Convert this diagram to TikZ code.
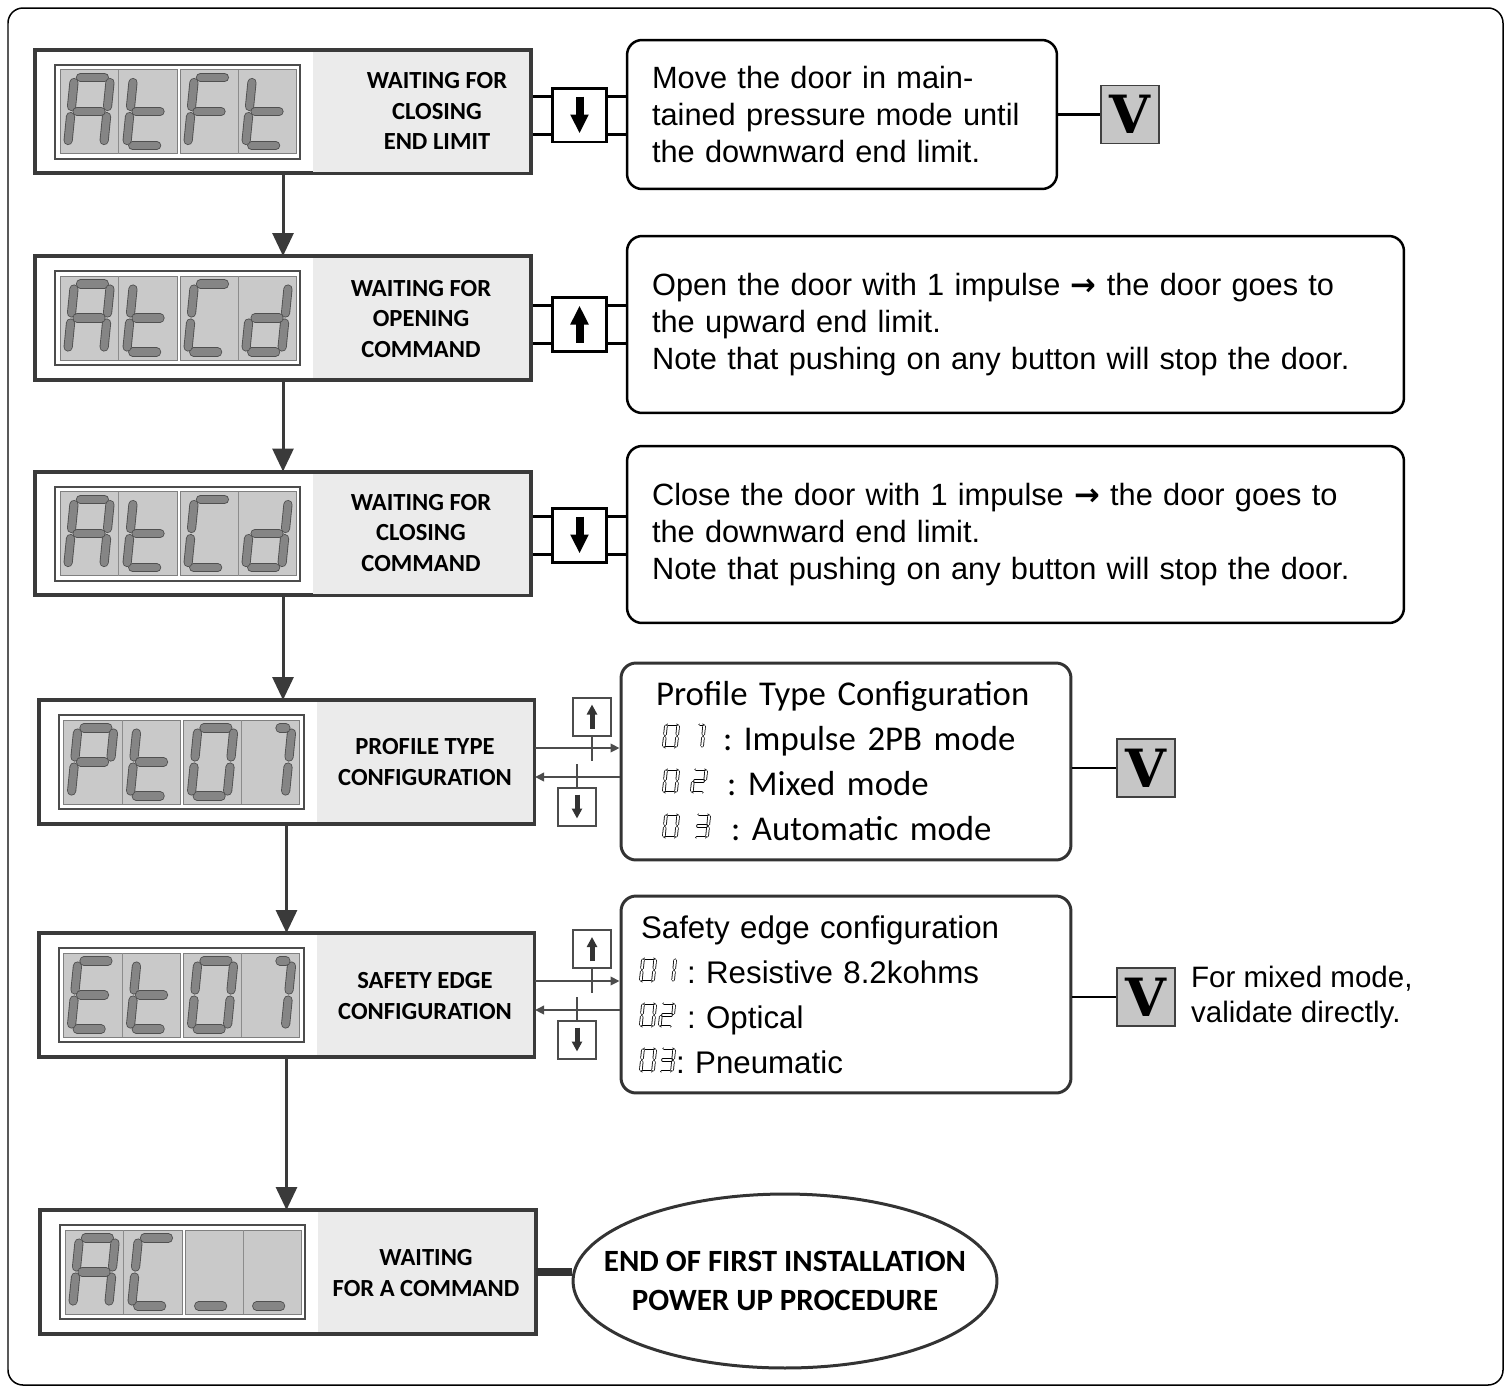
\documentclass[tikz,border=0pt]{standalone}
\usepackage{fontspec}
\setmainfont{Liberation Sans}
\newfontfamily\calibri{Carlito}
\newfontfamily\vfont{DejaVu Serif}
\newfontfamily\dejavu{DejaVu Sans}
\frenchspacing
\usetikzlibrary{arrows.meta,shapes.geometric,positioning,backgrounds}

\definecolor{paneledge}{HTML}{3A3A3A}
\definecolor{lcdback}{HTML}{EBEBEB}
\definecolor{lcdcell}{HTML}{C9C9C9}
\definecolor{segfill}{HTML}{858585}
\definecolor{segedge}{HTML}{505050}
\definecolor{vgray}{HTML}{C6C6C6}

\tikzset{
  lcdpanel/.style={draw=paneledge, line width=0.08cm, fill=white, minimum width=9.92cm, minimum height=2.48cm, inner sep=0pt, outer sep=0pt},
  plabel/.style={align=center, inner sep=0pt, font=\calibri\bfseries\fontsize{14}{17.6}\selectfont},
  seg/.style={line cap=round, draw=segedge, line width=0.5pt, double=segfill, double distance=4.2pt},
  smallseg/.style={seg/.style={line cap=round, draw=black, line width=0.45pt, double=white, double distance=1.1pt}},
  flow/.style={draw=paneledge, line width=0.06cm, -{Triangle[length=0.46cm,width=0.42cm]}},
  msgbox/.style={draw, rounded corners=0.3cm, line width=0.05cm, align=left, inner xsep=0.5cm, font=\fontsize{17.5}{21}\selectfont},
  cfgbox/.style={draw=black!80, rounded corners=0.3cm, line width=0.06cm, align=left, minimum width=9cm, minimum height=3.94cm},
  keybtn/.style={draw, line width=0.06cm, fill=white, minimum size=1.08cm, inner sep=0pt},
  keylink/.style={draw, line width=0.06cm, double, double distance=0.7cm},
  keyarrow/.style={line width=0.16cm, -{Triangle[length=0.38cm,width=0.34cm]}},
  smallbtn/.style={draw=black!70, line width=0.04cm, fill=white, minimum size=0.76cm, inner sep=0pt},
  smallkey/.style={draw=black!80, line width=0.1cm, -{Triangle[length=0.2cm,width=0.2cm]}},
  smallarrow/.style={draw=black!70, line width=0.04cm, -{Triangle[length=0.18cm,width=0.17cm]}},
  tick/.style={draw=black!70, line width=0.04cm},
  vkey/.style={draw=black!75, line width=0.03cm, fill=vgray, minimum size=1.16cm, inner sep=0pt, font=\vfont\bfseries\fontsize{30}{30}\selectfont},
  vlink/.style={draw, line width=0.05cm},
  note/.style={align=left, inner sep=0pt, font=\fontsize{16.8}{19.8}\selectfont},
  endoval/.style={ellipse, draw=black!80, line width=0.06cm, minimum width=8.48cm, minimum height=3.48cm},
}

\def\lcdsega{\draw[seg] (-12,-34)--(12,-34);}
\def\lcdsegb{\draw[seg] (18,-29)--(18,-5);}
\def\lcdsegc{\draw[seg] (18,5)--(18,29);}
\def\lcdsegd{\draw[seg] (-12,34)--(12,34);}
\def\lcdsege{\draw[seg] (-18,5)--(-18,29);}
\def\lcdsegf{\draw[seg] (-18,-29)--(-18,-5);}
\def\lcdsegg{\draw[seg] (-12,0)--(12,0);}
\def\lcdsegh{\draw[seg] (6,-34)--(12,-34);}

\newcommand\segdigit[3][]{%
  \begin{scope}[shift={#2},#1,xslant=0.1]
    \foreach \s in {#3}{\csname lcdseg\s\endcsname}
  \end{scope}}

\newcommand\lcd[5]{%
  \begin{scope}[shift={(#1.north west)}]
    \fill[lcdback] (278,2) rectangle (494,122);
    \draw[draw=black!70, line width=0.04cm] (20,15) rectangle (265,109);
    \draw[draw=black!50, line width=0.02cm, fill=lcdcell] (25,20) rectangle (142,104) (145,20) rectangle (261,104);
    \draw[draw=black!45, line width=0.02cm] (83.5,20) -- (83.5,104) (203,20) -- (203,104);
    \segdigit{(54,62)}{#2}
    \segdigit{(113,62)}{#3}
    \segdigit{(174,62)}{#4}
    \segdigit{(232,62)}{#5}
  \end{scope}}

\begin{document}
\begin{tikzpicture}[x=0.02cm,y=-0.02cm]
  \useasboundingbox (0,0) rectangle (1511,1390);
  \draw[line width=0.03cm, rounded corners=0.3cm] (8,8) rectangle (1503,1385);

  \node[lcdpanel] (atft) at (283,111.5) {};
  \lcd{atft}{a,b,c,e,f,g}{d,e,f,g}{a,e,f,g}{d,e,f,g}
  \node[plabel] (atft-txt) at (437,111) {WAITING FOR\\CLOSING\\END LIMIT};

  \node[lcdpanel] (atcd-open) at (283,318) {};
  \lcd{atcd-open}{a,b,c,e,f,g}{d,e,f,g}{a,d,e,f}{b,c,d,e,g}
  \node[plabel] (atcd-open-txt) at (421,319) {WAITING FOR\\OPENING\\COMMAND};

  \node[lcdpanel] (atcd-close) at (283,533.5) {};
  \lcd{atcd-close}{a,b,c,e,f,g}{d,e,f,g}{a,d,e,f}{b,c,d,e,g}
  \node[plabel] (atcd-close-txt) at (421,533) {WAITING FOR\\CLOSING\\COMMAND};

  \node[lcdpanel] (pt01) at (286.5,762) {};
  \lcd{pt01}{a,b,e,f,g}{d,e,f,g}{a,b,c,d,e,f}{b,c,h}
  \node[plabel] (pt01-txt) at (425,762) {PROFILE TYPE\\CONFIGURATION};

  \node[lcdpanel] (et01) at (286.5,995) {};
  \lcd{et01}{a,d,e,f,g}{d,e,f,g}{a,b,c,d,e,f}{b,c,h}
  \node[plabel] (et01-txt) at (425,996) {SAFETY EDGE\\CONFIGURATION};

  \node[lcdpanel] (ac) at (288,1272) {};
  \lcd{ac}{a,b,c,e,f,g}{a,d,e,f}{d}{d}
  \node[plabel] (ac-txt) at (426,1273) {WAITING\\FOR A COMMAND};

  \draw[flow] (atft) -- (atcd-open);
  \draw[flow] (atcd-open) -- (atcd-close);
  \draw[flow] (atcd-close.south) -- (atcd-close.south |- pt01.north);
  \draw[flow] (pt01.south) -- (pt01.south |- et01.north);
  \draw[flow] (et01.south) -- (et01.south |- ac.north);

  \node[msgbox, minimum width=8.6cm, minimum height=2.98cm, text width=7.6cm] (endlimit) at (842,114.5)
    {Move the door in main-\\tained pressure mode until\\the downward end limit.};
  \node[msgbox, minimum width=15.54cm, minimum height=3.54cm, text width=14.54cm] (opencmd) at (1015.5,324.5)
    {Open the door with 1 impulse {\dejavu\bfseries →} the door goes to\\the upward end limit.\\Note that pushing on any button will stop the door.};
  \node[msgbox, minimum width=15.54cm, minimum height=3.54cm, text width=14.54cm] (closecmd) at (1015.5,534.5)
    {Close the door with 1 impulse {\dejavu\bfseries →} the door goes to\\the downward end limit.\\Note that pushing on any button will stop the door.};

  \node[keybtn] (key-down1) at (579.5,115) {};
  \node[keybtn] (key-up) at (579.5,324) {};
  \node[keybtn] (key-down2) at (579.5,535) {};
  \begin{pgfonlayer}{background}
    \draw[keylink] (atft.east |- key-down1) -- (endlimit.west |- key-down1);
    \draw[keylink] (atcd-open.east |- key-up) -- (opencmd.west |- key-up);
    \draw[keylink] (atcd-close.east |- key-down2) -- (closecmd.west |- key-down2);
  \end{pgfonlayer}
  \draw[keyarrow] ([yshift=0.37cm]key-down1.center) -- ([yshift=-0.37cm]key-down1.center);
  \draw[keyarrow] ([yshift=-0.37cm]key-up.center) -- ([yshift=0.37cm]key-up.center);
  \draw[keyarrow] ([yshift=0.37cm]key-down2.center) -- ([yshift=-0.37cm]key-down2.center);

  \node[vkey] (ok-end) at (1130,114.5) {V};
  \draw[vlink] (endlimit.east |- ok-end) -- (ok-end);

  \node[cfgbox, inner xsep=0.7cm, text width=7.6cm, font=\calibri\fontsize{19.8}{25.6}\selectfont] (ptcfg) at (846,761.5)
    {Profile Type Configuration\\\hspace*{1.34cm}: Impulse 2PB mode\\\hspace*{1.42cm}: Mixed mode\\\hspace*{1.5cm}: Automatic mode};
  \segdigit[smallseg,scale=0.34]{(671,736)}{a,b,c,d,e,f}
  \segdigit[smallseg,scale=0.34]{(697,736)}{b,c,h}
  \segdigit[smallseg,scale=0.34]{(671,781)}{a,b,c,d,e,f}
  \segdigit[smallseg,scale=0.34]{(699,781)}{a,b,g,e,d}
  \segdigit[smallseg,scale=0.34]{(671,826)}{a,b,c,d,e,f}
  \segdigit[smallseg,scale=0.34]{(702,826)}{a,b,c,d,g}

  \node[smallbtn] (pt-up) at (592,716.5) {};
  \node[smallbtn] (pt-down) at (577,806.5) {};
  \coordinate (pt-out) at (535,748);
  \coordinate (pt-back) at (535,777);
  \draw[smallarrow] (pt-out) -- (pt-out -| ptcfg.west);
  \draw[smallarrow] (pt-back -| ptcfg.west) -- (pt-back);
  \draw[tick] (pt-up.south) -- ++(0,24);
  \draw[tick] (pt-down.north) -- ++(0,-23);
  \draw[smallkey] ([yshift=-0.24cm]pt-up.center) -- ([yshift=0.24cm]pt-up.center);
  \draw[smallkey] ([yshift=0.24cm]pt-down.center) -- ([yshift=-0.24cm]pt-down.center);

  \node[vkey] (ok-pt) at (1146,768) {V};
  \draw[vlink] (ptcfg.east |- ok-pt) -- (ok-pt);

  \node[cfgbox, inner xsep=0.4cm, text width=8.2cm, font=\fontsize{17.8}{25.6}\selectfont] (etcfg) at (846,994.5)
    {Safety edge configuration\\\hspace*{0.92cm}: Resistive 8.2kohms\\\hspace*{0.92cm}: Optical\\\hspace*{0.7cm}: Pneumatic};
  \segdigit[smallseg,scale=0.34]{(648,970)}{a,b,c,d,e,f}
  \segdigit[smallseg,scale=0.34]{(668,970)}{b,c}
  \segdigit[smallseg,scale=0.34]{(648,1015)}{a,b,c,d,e,f}
  \segdigit[smallseg,scale=0.34]{(667,1015)}{a,b,g,e,d}
  \segdigit[smallseg,scale=0.34]{(648,1060)}{a,b,c,d,e,f}
  \segdigit[smallseg,scale=0.34]{(667,1060)}{a,b,c,d,g}

  \node[smallbtn] (et-up) at (592,949) {};
  \node[smallbtn] (et-down) at (577,1039.5) {};
  \coordinate (et-out) at (535,981);
  \coordinate (et-back) at (535,1010);
  \draw[smallarrow] (et-out) -- (et-out -| etcfg.west);
  \draw[smallarrow] (et-back -| etcfg.west) -- (et-back);
  \draw[tick] (et-up.south) -- ++(0,24);
  \draw[tick] (et-down.north) -- ++(0,-23);
  \draw[smallkey] ([yshift=-0.24cm]et-up.center) -- ([yshift=0.24cm]et-up.center);
  \draw[smallkey] ([yshift=0.24cm]et-down.center) -- ([yshift=-0.24cm]et-down.center);

  \node[vkey] (ok-et) at (1146,997) {V};
  \draw[vlink] (etcfg.east |- ok-et) -- (ok-et);
  \node[note, right=0.3cm of ok-et] (et-note) {For mixed mode,\\validate directly.};

  \node[endoval] (finish) at (785,1281) {};
  \node[align=center, inner sep=0pt, font=\calibri\bfseries\fontsize{17.6}{22}\selectfont] (finish-txt) at (finish)
    {END OF FIRST INSTALLATION\\POWER UP PROCEDURE};
  \draw[draw=black!80, line width=0.16cm] (ac.east) -- (ac.east -| finish.west);
\end{tikzpicture}
\end{document}
